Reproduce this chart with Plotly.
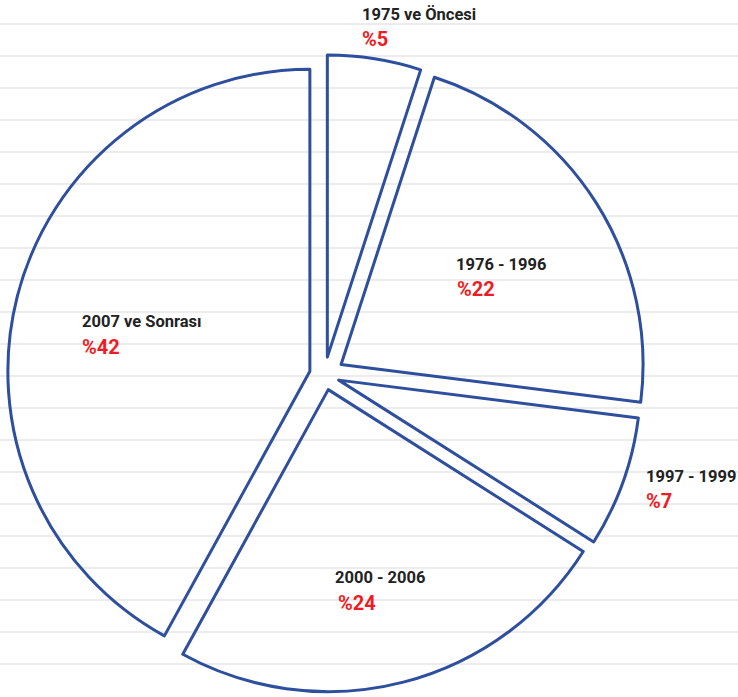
import plotly.graph_objects as go

# ---- data ----
categories = ["1975 ve Öncesi", "1976 - 1996", "1997 - 1999", "2000 - 2006", "2007 ve Sonrası"]
values = [5, 22, 7, 24, 42]
pulls = [0.06, 0.065, 0.05, 0.05, 0.05]

# label anchor positions (pixel-like coords on the hidden axes)
label_x = [360, 454, 644, 333, 80]
label_y = [14, 264, 476, 577, 321]
pct_x = [360, 455, 644, 336, 80]
pct_y = [39, 289, 501, 603, 347]

W, H = 738, 697
BLUE = "#2E4E9E"
RED = "#EE1C25"
FONT = "Roboto, Liberation Sans, Arial, sans-serif"

fig = go.Figure()

# invisible cartesian trace so that the background grid axes exist
fig.add_trace(go.Scatter(x=[], y=[], showlegend=False, hoverinfo="skip"))

cx, cy, r = 324.5, 375.0, 302.0
half = r * (1 + max(pulls))
fig.add_trace(go.Pie(
    labels=categories,
    values=values,
    pull=pulls,
    sort=False,
    direction="clockwise",
    rotation=0,
    textinfo="none",
    hoverinfo="label+percent",
    showlegend=False,
    marker=dict(colors=["rgba(0,0,0,0)"] * len(values),
                line=dict(color=BLUE, width=3)),
    domain=dict(x=[(cx - half) / W, (cx + half) / W],
                y=[1 - (cy + half) / H, 1 - (cy - half) / H]),
))

annotations = []
for i, cat in enumerate(categories):
    annotations.append(dict(
        x=label_x[i], y=label_y[i], xref="x", yref="y",
        text=f"<b>{cat}</b>", showarrow=False,
        xanchor="left", yanchor="middle",
        font=dict(family=FONT, size=16.5, color="#222222"),
    ))
    annotations.append(dict(
        x=pct_x[i], y=pct_y[i], xref="x", yref="y",
        text=f"<b>%{values[i]}</b>", showarrow=False,
        xanchor="left", yanchor="middle",
        font=dict(family=FONT, size=20, color=RED),
    ))

fig.update_layout(
    width=W, height=H,
    margin=dict(l=0, r=0, t=0, b=0),
    paper_bgcolor="white",
    plot_bgcolor="white",
    xaxis=dict(range=[0, W], visible=True, showgrid=False, zeroline=False,
               showticklabels=False, ticks="", showline=False, fixedrange=True),
    yaxis=dict(range=[H, 0], showgrid=True, gridcolor="#ECECEC", gridwidth=2,
               tick0=24, dtick=32, zeroline=False, showticklabels=False,
               ticks="", showline=False, fixedrange=True),
    annotations=annotations,
)

fig.write_html(
    "out.html",
    config={"displayModeBar": False},
    post_script="document.body.style.margin='0';document.body.style.overflow='hidden';",
)
